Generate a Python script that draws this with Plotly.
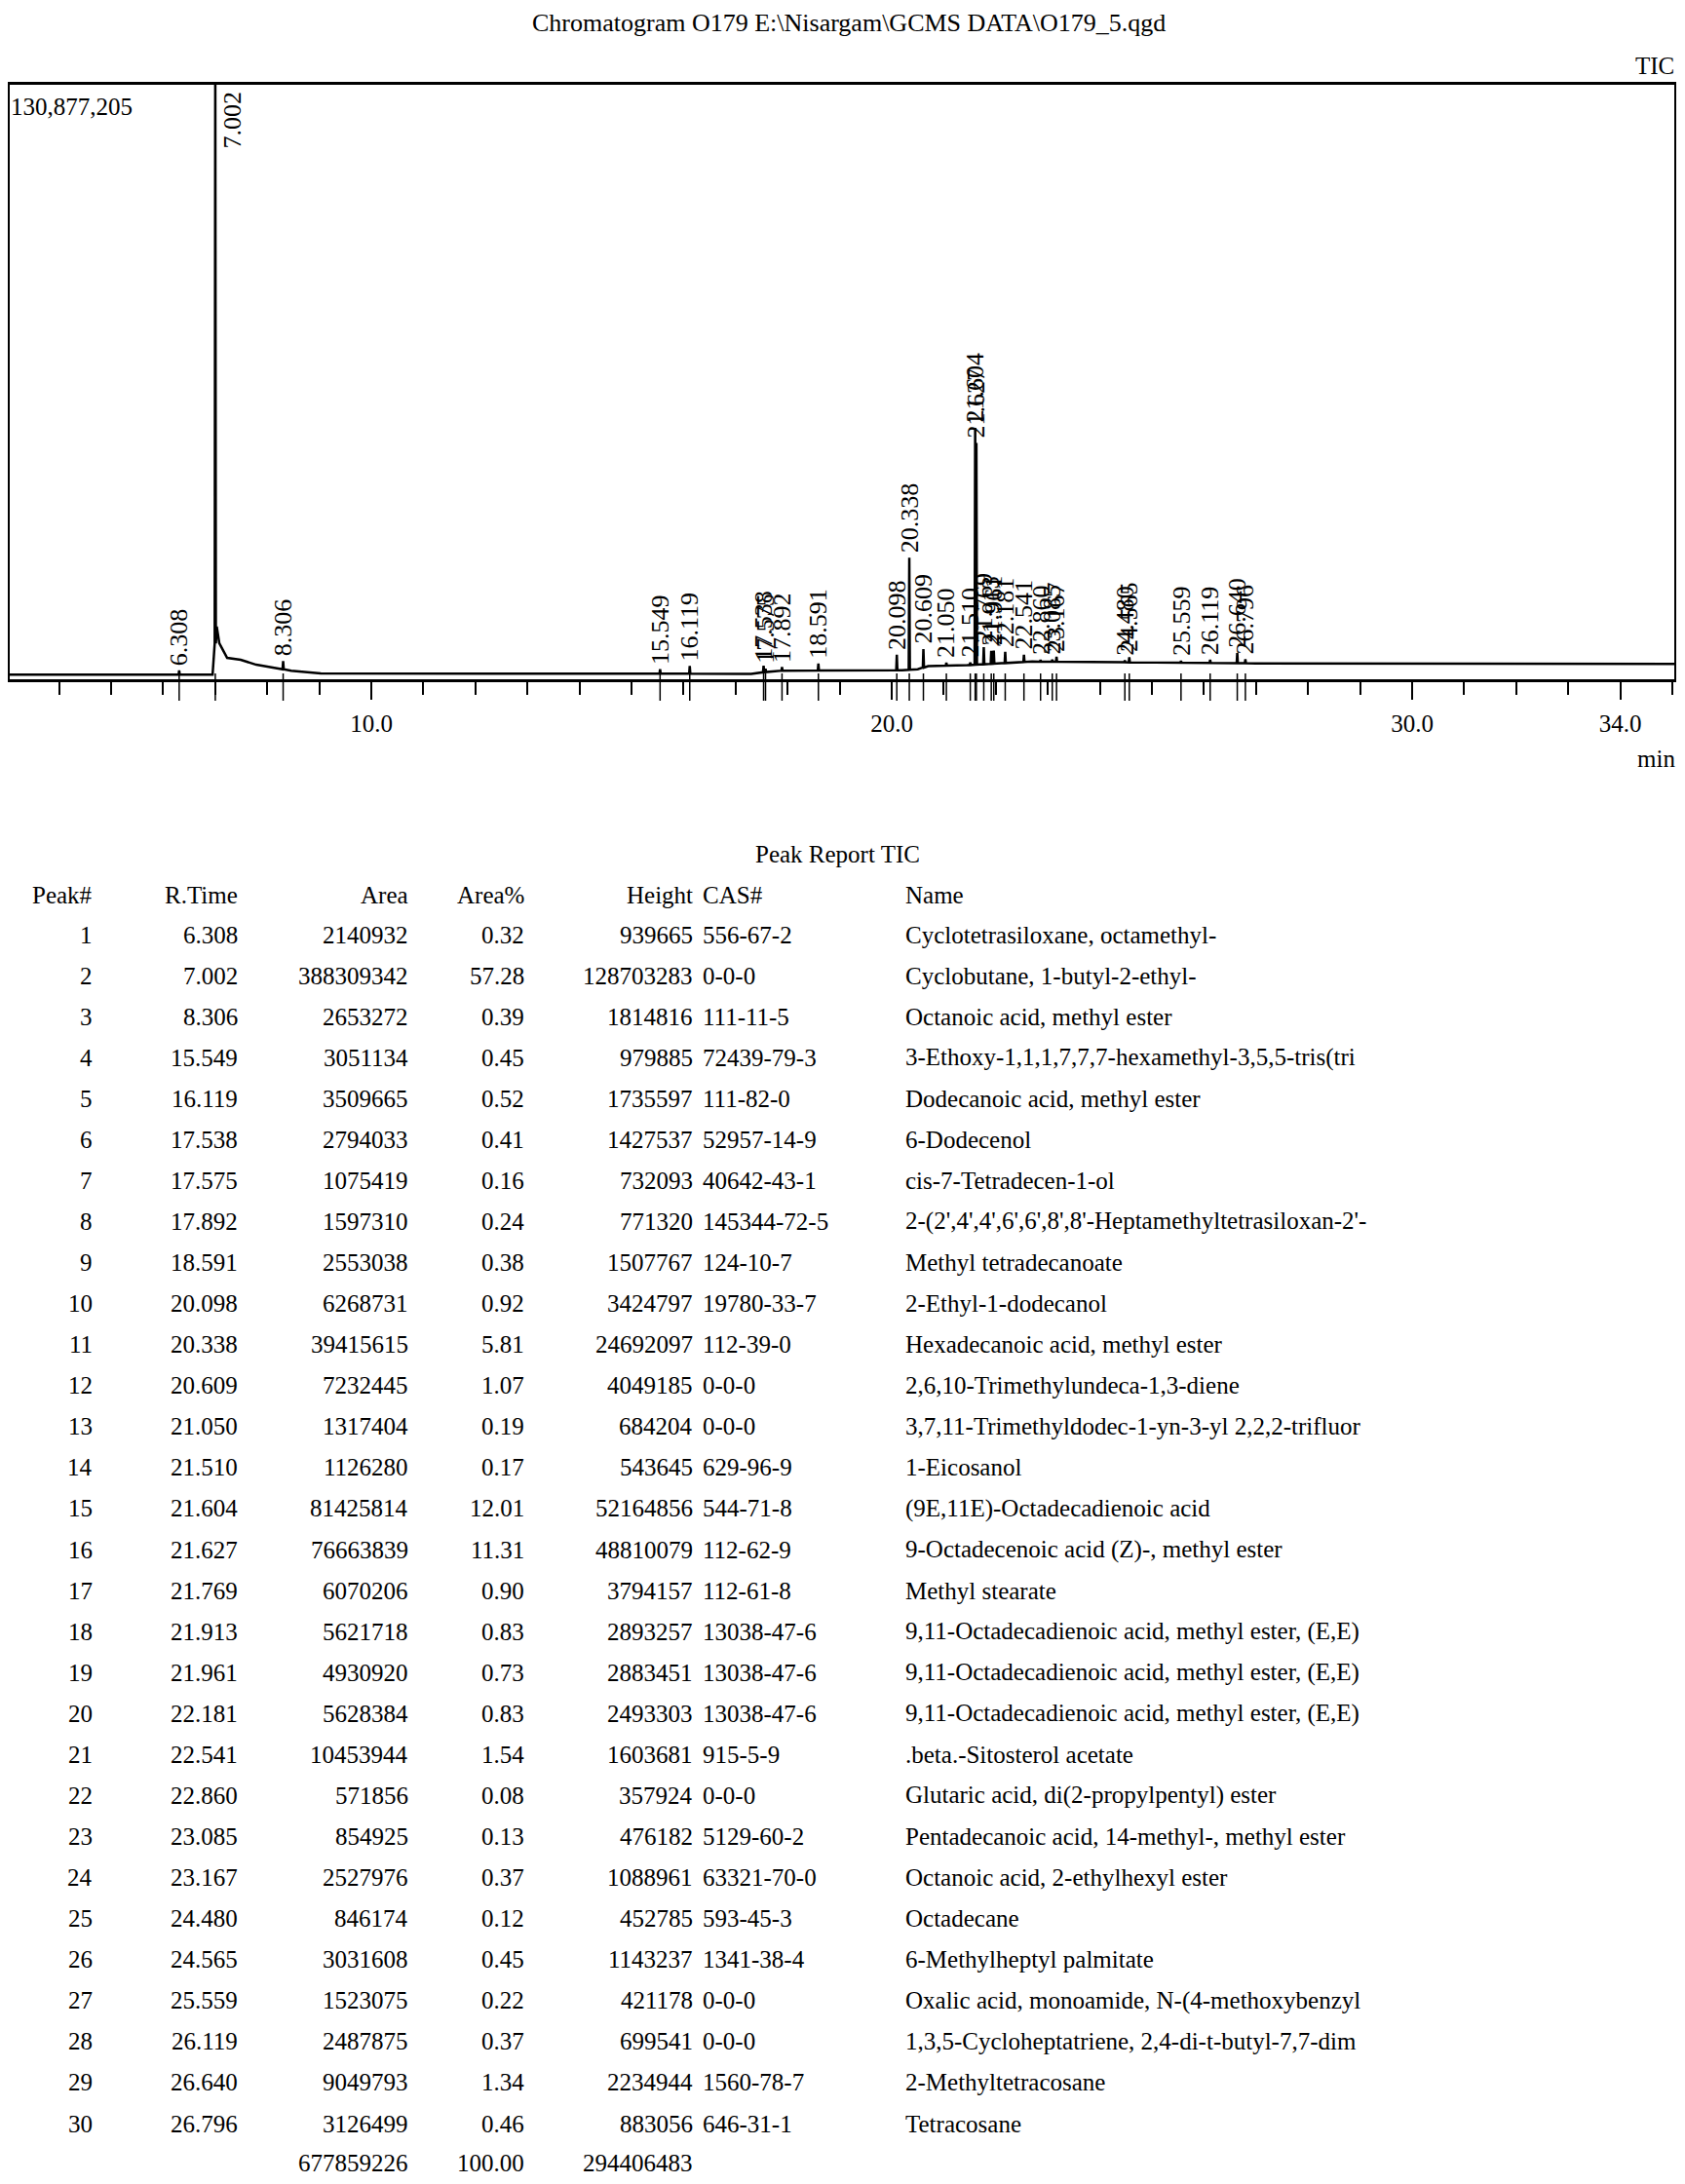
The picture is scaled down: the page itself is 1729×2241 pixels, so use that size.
import numpy as np
import plotly.graph_objects as go

# the page body has an 8px margin, so the figure is drawn inside it
OFF = 8
W, H = 1729 - 2 * OFF, 2241 - 2 * OFF
FONT = 'Liberation Serif'

title = 'Chromatogram O179 E:\\Nisargam\\GCMS DATA\\O179_5.qgd'
y_max = 130877205

# peak report
peak_no = list(range(1, 31))
r_time = [6.308, 7.002, 8.306, 15.549, 16.119, 17.538, 17.575, 17.892, 18.591, 20.098,
          20.338, 20.609, 21.050, 21.510, 21.604, 21.627, 21.769, 21.913, 21.961, 22.181,
          22.541, 22.860, 23.085, 23.167, 24.480, 24.565, 25.559, 26.119, 26.640, 26.796]
area = [2140932, 388309342, 2653272, 3051134, 3509665, 2794033, 1075419, 1597310, 2553038, 6268731,
        39415615, 7232445, 1317404, 1126280, 81425814, 76663839, 6070206, 5621718, 4930920, 5628384,
        10453944, 571856, 854925, 2527976, 846174, 3031608, 1523075, 2487875, 9049793, 3126499]
area_pct = [0.32, 57.28, 0.39, 0.45, 0.52, 0.41, 0.16, 0.24, 0.38, 0.92,
            5.81, 1.07, 0.19, 0.17, 12.01, 11.31, 0.90, 0.83, 0.73, 0.83,
            1.54, 0.08, 0.13, 0.37, 0.12, 0.45, 0.22, 0.37, 1.34, 0.46]
height = [939665, 128703283, 1814816, 979885, 1735597, 1427537, 732093, 771320, 1507767, 3424797,
          24692097, 4049185, 684204, 543645, 52164856, 48810079, 3794157, 2893257, 2883451, 2493303,
          1603681, 357924, 476182, 1088961, 452785, 1143237, 421178, 699541, 2234944, 883056]
cas = ['556-67-2', '0-0-0', '111-11-5', '72439-79-3', '111-82-0', '52957-14-9', '40642-43-1',
       '145344-72-5', '124-10-7', '19780-33-7', '112-39-0', '0-0-0', '0-0-0', '629-96-9',
       '544-71-8', '112-62-9', '112-61-8', '13038-47-6', '13038-47-6', '13038-47-6', '915-5-9',
       '0-0-0', '5129-60-2', '63321-70-0', '593-45-3', '1341-38-4', '0-0-0', '0-0-0',
       '1560-78-7', '646-31-1']
names = ['Cyclotetrasiloxane, octamethyl-',
         'Cyclobutane, 1-butyl-2-ethyl-',
         'Octanoic acid, methyl ester',
         '3-Ethoxy-1,1,1,7,7,7-hexamethyl-3,5,5-tris(tri',
         'Dodecanoic acid, methyl ester',
         '6-Dodecenol',
         'cis-7-Tetradecen-1-ol',
         "2-(2',4',4',6',6',8',8'-Heptamethyltetrasiloxan-2'-",
         'Methyl tetradecanoate',
         '2-Ethyl-1-dodecanol',
         'Hexadecanoic acid, methyl ester',
         '2,6,10-Trimethylundeca-1,3-diene',
         '3,7,11-Trimethyldodec-1-yn-3-yl 2,2,2-trifluor',
         '1-Eicosanol',
         '(9E,11E)-Octadecadienoic acid',
         '9-Octadecenoic acid (Z)-, methyl ester',
         'Methyl stearate',
         '9,11-Octadecadienoic acid, methyl ester, (E,E)',
         '9,11-Octadecadienoic acid, methyl ester, (E,E)',
         '9,11-Octadecadienoic acid, methyl ester, (E,E)',
         '.beta.-Sitosterol acetate',
         'Glutaric acid, di(2-propylpentyl) ester',
         'Pentadecanoic acid, 14-methyl-, methyl ester',
         'Octanoic acid, 2-ethylhexyl ester',
         'Octadecane',
         '6-Methylheptyl palmitate',
         'Oxalic acid, monoamide, N-(4-methoxybenzyl',
         '1,3,5-Cycloheptatriene, 2,4-di-t-butyl-7,7-dim',
         '2-Methyltetracosane',
         'Tetracosane']
total_area = 677859226
total_pct = '100.00'
total_height = 294406483

# baseline of the TIC (incl. solvent tail after 7.0 min)
base_t = [2.95, 6.95, 7.03, 7.08, 7.23, 7.49, 7.79, 8.20, 8.46, 9.03,
          17.3, 17.8, 20.05, 20.2, 20.5, 20.7, 21.45, 22.7, 27.0, 35.2]
base_i = [1.0e6, 1.0e6, 11.6e6, 7.9e6, 4.7e6, 4.3e6, 3.2e6, 2.4e6, 1.9e6, 1.3e6,
          1.2e6, 1.9e6, 2.0e6, 2.0e6, 2.2e6, 2.9e6, 3.1e6, 3.9e6, 3.5e6, 3.4e6]

x_tickvals = [10, 20, 30, 34]
x_ticktext = ['10.0', '20.0', '30.0', '34.0']


def px(x):
    return (x - OFF) / W


def py(y):
    return 1 - (y - OFF) / H


# plot box in page pixels, and the time scale of the axis (px per minute)
box_l, box_r, box_t, box_b = 10, 1718, 87, 697
t0_px, px_min = -153.0, 53.4
x_range = [(box_l - t0_px) / px_min, (box_r - t0_px) / px_min]

# build the trace: baseline + narrow peaks of the reported heights
hw = 0.011
pts = list(zip(base_t, base_i))
peak_base = np.interp(r_time, base_t, base_i)
apex = []
for t, h, b in zip(r_time, height, peak_base):
    pts += [(t - hw, b), (t, b + h), (t + hw, b)]
    apex.append(b + h)
pts.sort()
tx = [p[0] for p in pts]
ty = [p[1] for p in pts]

fig = go.Figure()
fig.add_trace(go.Scatter(x=tx, y=ty, mode='lines',
                         line=dict(color='black', width=2.5), hoverinfo='skip'))

ann = []
lab_font = dict(size=26, family=FONT, color='black')
for t, a in zip(r_time, apex):
    lab = f'{t:.3f}'
    if a > 0.9 * y_max:
        ann.append(dict(x=t, y=y_max, xref='x', yref='y', text=lab, textangle=-90,
                        xanchor='center', yanchor='top', xshift=18, yshift=-4,
                        showarrow=False, font=lab_font))
    else:
        ann.append(dict(x=t, y=a, xref='x', yref='y', text=lab, textangle=-90,
                        xanchor='center', yanchor='bottom', yshift=3,
                        showarrow=False, font=lab_font))

# peak markers under the axis
shapes = []
for t in r_time:
    shapes.append(dict(type='line', xref='x', yref='paper', x0=t, x1=t,
                       y0=py(box_b - 6), y1=py(box_b + 22),
                       line=dict(color='black', width=1.5)))


def txt(x, y, s, anchor='left', size=25):
    ann.append(dict(x=px(x), y=py(y), xref='paper', yref='paper', text=s,
                    xanchor=anchor, yanchor='middle', showarrow=False,
                    font=dict(size=size, family=FONT, color='black')))


txt(871, 24, title, 'center', 26)
txt(1720, 67, 'TIC', 'right', 25)
txt(9, 110, f'{y_max:,}', 'left', 25)
txt(1721, 778, 'min', 'right', 25)

# peak report table
txt(859, 876, 'Peak Report TIC', 'center', 25)
col_r = [97, 246, 421, 540, 713]
cas_x, name_x = 719, 927
head_y, row0, step = 918, 959, 42.07
for s, x in zip(['Peak#', 'R.Time', 'Area', 'Area%', 'Height'], col_r):
    txt(x, head_y, s, 'right')
txt(cas_x, head_y, 'CAS#')
txt(name_x, head_y, 'Name')
for i in range(len(peak_no)):
    y = row0 + i * step
    vals = [str(peak_no[i]), f'{r_time[i]:.3f}', str(area[i]), f'{area_pct[i]:.2f}', str(height[i])]
    for s, x in zip(vals, col_r):
        txt(x, y, s, 'right')
    txt(cas_x, y, cas[i])
    txt(name_x, y, names[i])
y_tot = row0 + len(peak_no) * step - 2
txt(col_r[2], y_tot, str(total_area), 'right')
txt(col_r[3], y_tot, total_pct, 'right')
txt(col_r[4], y_tot, str(total_height), 'right')

fig.update_layout(
    width=W, height=H, margin=dict(l=0, r=0, t=0, b=0),
    paper_bgcolor='white', plot_bgcolor='white', showlegend=False,
    font=dict(family=FONT, color='black'),
    annotations=ann, shapes=shapes,
    xaxis=dict(domain=[px(box_l), px(box_r)], range=x_range,
               showgrid=False, zeroline=False, showline=True, mirror=True,
               linecolor='black', linewidth=3,
               tickmode='array', tickvals=x_tickvals, ticktext=x_ticktext,
               ticks='outside', ticklen=18, tickwidth=2, tickcolor='black',
               ticklabelstandoff=3,
               tickfont=dict(size=25, family=FONT, color='black'),
               minor=dict(tickmode='linear', tick0=0, dtick=1, ticks='outside',
                          ticklen=13, tickwidth=1.5, tickcolor='black')),
    yaxis=dict(domain=[py(box_b), py(box_t)], range=[0, y_max],
               showgrid=False, zeroline=False, showline=True, mirror=True,
               linecolor='black', linewidth=2, showticklabels=False, ticks=''),
)

fig.write_html('out.html', config={'displayModeBar': False})
